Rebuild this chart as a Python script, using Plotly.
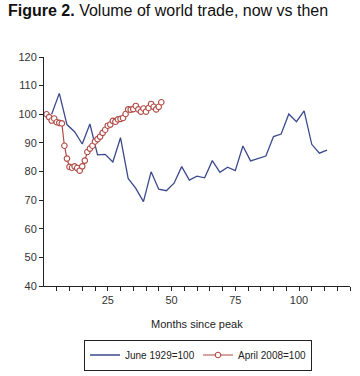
import plotly.graph_objects as go

# 1929 series (quarterly, months since peak)
months_1929 = [3, 6, 9, 12, 15, 18, 21, 24, 27, 30, 33, 36, 39, 42, 45, 48, 51, 54, 57,
               60, 63, 66, 69, 72, 75, 78, 81, 84, 87, 90, 93, 96, 99, 102, 105, 108, 111]
values_1929 = [100.0, 107.3, 96.4, 93.9, 89.6, 96.6, 85.8, 86.0, 83.3, 91.8, 77.6, 74.1, 69.5,
               79.9, 73.8, 73.3, 75.9, 81.7, 77.0, 78.4, 77.8, 83.8, 79.7, 81.5, 80.3, 88.9,
               83.7, 84.6, 85.4, 92.2, 93.1, 100.1, 97.4, 101.2, 89.5, 86.4, 87.5]

# 2008 series (monthly)
months_2008 = list(range(1, 47))
values_2008 = [100.0, 99.0, 97.8, 98.5, 97.2, 97.0, 96.8, 89.0, 84.5, 81.6,
               81.3, 81.8, 81.2, 80.3, 81.8, 83.8, 86.8, 88.0, 89.0, 90.5,
               91.3, 92.2, 93.5, 94.6, 96.0, 96.4, 97.7, 97.4, 98.2, 98.4,
               98.7, 100.1, 101.7, 101.6, 101.8, 102.9, 101.7, 100.9, 102.0, 100.9,
               102.2, 103.6, 102.6, 101.7, 102.6, 104.2]

x_tickvals = list(range(5, 121, 5))
x_ticktext = [str(v) if v in (25, 50, 75, 100) else "" for v in x_tickvals]
y_tickvals = list(range(40, 121, 10))

BLUE = "#3b4a8c"
RED = "#b04a45"
FONT = "Liberation Sans, Arial, sans-serif"

fig = go.Figure()
fig.add_trace(go.Scatter(
    x=months_1929, y=values_1929, mode="lines", name="June 1929=100",
    line=dict(color=BLUE, width=1.3)))
fig.add_trace(go.Scatter(
    x=months_2008, y=values_2008, mode="lines+markers", name="April 2008=100",
    line=dict(color=RED, width=1.2),
    marker=dict(symbol="circle", size=5.5, color="white",
                line=dict(color=RED, width=1.1))))

fig.update_layout(
    width=360, height=376,
    margin=dict(l=44, r=10, t=57, b=90, autoexpand=False),
    paper_bgcolor="white", plot_bgcolor="white",
    font=dict(family=FONT, size=11, color="#333333"),
    title=dict(text="<b>Figure 2.</b> Volume of world trade, now vs then",
               x=8 / 360, xanchor="left", xref="container",
               y=1 - 10.5 / 376, yanchor="middle", yref="container",
               font=dict(family=FONT, size=16, color="#111111")),
    showlegend=True,
    legend=dict(orientation="h", x=198 / 360, xanchor="center", xref="container",
                y=1 - 355 / 376, yanchor="middle", yref="container",
                bordercolor="#222222", borderwidth=1, bgcolor="white",
                font=dict(family=FONT, size=10, color="#222222"),
                itemwidth=30, entrywidth=68, entrywidthmode="pixels",
                tracegroupgap=0),
    xaxis=dict(range=[0, 120], showgrid=False, zeroline=False,
               showline=True, linecolor="#222222", linewidth=1,
               tickmode="array", tickvals=x_tickvals, ticktext=x_ticktext,
               ticks="outside", ticklen=4, tickcolor="#222222",
               tickfont=dict(size=11, color="#333333")),
    yaxis=dict(range=[40, 120], showgrid=False, zeroline=False,
               showline=True, linecolor="#222222", linewidth=1,
               tickmode="array", tickvals=y_tickvals,
               ticks="outside", ticklen=4, tickcolor="#222222",
               tickfont=dict(size=11, color="#333333")),
    annotations=[dict(text="Months since peak", xref="paper", yref="paper",
                      x=0.5, y=-0.166, xanchor="center", yanchor="middle",
                      showarrow=False, font=dict(family=FONT, size=11, color="#222222"))],
)

fig.write_html("out.html",
               config={"displayModeBar": False},
               post_script="document.body.style.margin='0';document.body.style.overflow='hidden';")
